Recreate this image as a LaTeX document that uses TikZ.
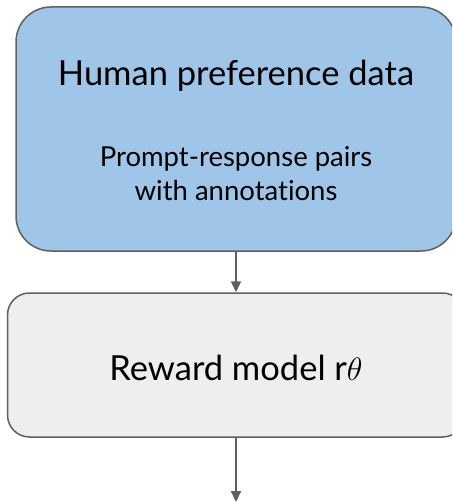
\documentclass[tikz,border=0pt]{standalone}
\usepackage{fontspec}
\setmainfont[Ligatures={NoCommon}]{Lato}
\usetikzlibrary{arrows.meta}
\definecolor{dataBlue}{HTML}{9FC5E8}
\definecolor{modelGray}{HTML}{EEEEEE}
\definecolor{edgeGray}{HTML}{5F5F5F}
\tikzset{
  stagebox/.style={draw=edgeGray, line width=1.5pt, inner sep=0pt},
  flow/.style={draw=edgeGray, line width=2pt, -{Triangle[length=11pt,width=10pt]}},
  title/.style={anchor=base, inner sep=0pt, font=\fontsize{34.5}{39}\selectfont},
  subtitle/.style={anchor=base, inner sep=0pt, font=\fontsize{27.5}{32}\selectfont},
}
\begin{document}
\begin{tikzpicture}[x=1pt, y=-1pt]
  \useasboundingbox (0,0) rectangle (452,502);
  \begin{scope}
    \clip (0,0) rectangle (452,502);
    % data stage
    \node[stagebox, fill=dataBlue, rounded corners=35pt,
          minimum width=440pt, minimum height=244pt] (data) at (236,129) {};
    \node[title] (dataTitle) at (236,86) {Human preference data};
    \node[subtitle] (dataSub1) at (236,167) {Prompt-response pairs};
    \node[subtitle] (dataSub2) at (236,201) {with annotations};
    % reward model stage
    \node[stagebox, fill=modelGray, rounded corners=22pt,
          minimum width=457pt, minimum height=144pt] (rm) at (236,365) {};
    \node[title] (rmTitle) at (236,380) {Reward model r\scalebox{1.3}{$\theta$}};
    \coordinate (out) at (236,502);
    % connectors
    \draw[flow] (data.south) -- (rm.north);
    \draw[flow] (rm.south) -- (out);
  \end{scope}
\end{tikzpicture}
\end{document}
